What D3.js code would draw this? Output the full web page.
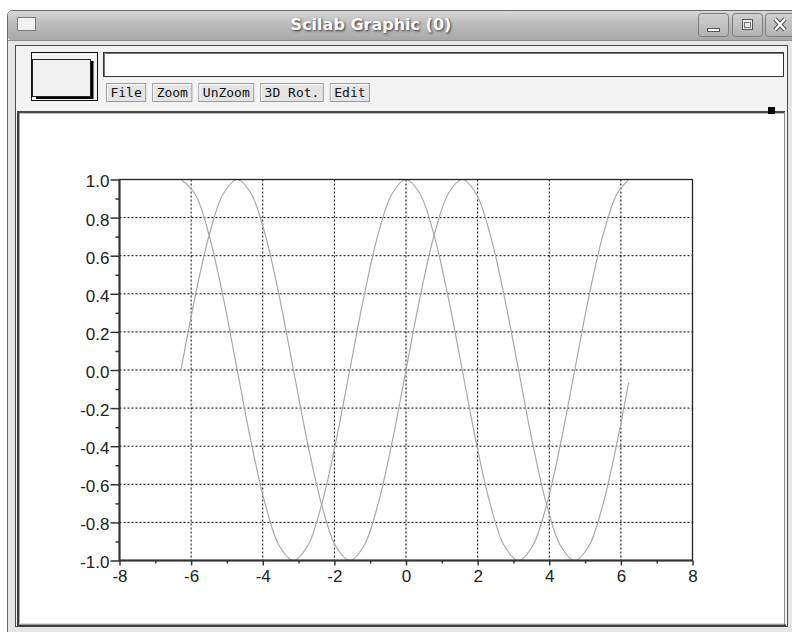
<!DOCTYPE html>
<html><head><meta charset="utf-8">
<script src="https://cdn.jsdelivr.net/npm/d3@7"></script>
<style>body{margin:0;background:#fff;overflow:hidden}svg{display:block}</style>
</head><body>
<svg id="c" width="792" height="632"></svg>
<script>
// ---- data ----
const xValues = [-6.283,-5.890,-5.498,-5.105,-4.712,-4.320,-3.927,-3.534,-3.142,-2.749,-2.356,-1.963,-1.571,-1.178,-0.785,-0.393,
  0.000,0.393,0.785,1.178,1.571,1.963,2.356,2.749,3.142,3.534,3.927,4.320,4.712,5.105,5.498,5.890,6.217];
const sinValues = [0.000,0.383,0.707,0.924,1.000,0.924,0.707,0.383,0.000,-0.383,-0.707,-0.924,-1.000,-0.924,-0.707,-0.383,
  0.000,0.383,0.707,0.924,1.000,0.924,0.707,0.383,0.000,-0.383,-0.707,-0.924,-1.000,-0.924,-0.707,-0.383,-0.066];
const cosValues = [1.000,0.924,0.707,0.383,0.000,-0.383,-0.707,-0.924,-1.000,-0.924,-0.707,-0.383,0.000,0.383,0.707,0.924,
  1.000,0.924,0.707,0.383,0.000,-0.383,-0.707,-0.924,-1.000,-0.924,-0.707,-0.383,0.000,0.383,0.707,0.924,0.998];
const xTickValues = [-8,-6,-4,-2,0,2,4,6,8];
const xMinorTicks = [-7,-5,-3,-1,1,3,5,7];
const yTickValues = [-1.0,-0.8,-0.6,-0.4,-0.2,0.0,0.2,0.4,0.6,0.8,1.0];
const yMinorTicks = [-0.9,-0.7,-0.5,-0.3,-0.1,0.1,0.3,0.5,0.7,0.9];
const xGridValues = [-6,-4,-2,0,2,4,6];
const yGridValues = [-0.8,-0.6,-0.4,-0.2,0.0,0.2,0.4,0.6,0.8];
const menuLabels = ["File","Zoom","UnZoom","3D Rot.","Edit"];
const windowTitle = "Scilab Graphic (0)";

const svg = d3.select("#c");
const defs = svg.append("defs");
const tb = defs.append("linearGradient").attr("id","tb").attr("x1",0).attr("y1",0).attr("x2",0).attr("y2",1);
tb.append("stop").attr("offset","0%").attr("stop-color","#d8d8d8");
tb.append("stop").attr("offset","40%").attr("stop-color","#bebebe");
tb.append("stop").attr("offset","100%").attr("stop-color","#a8a8a8");
const bg = defs.append("linearGradient").attr("id","btn").attr("x1",0).attr("y1",0).attr("x2",0).attr("y2",1);
bg.append("stop").attr("offset","0%").attr("stop-color","#d0d0d0");
bg.append("stop").attr("offset","100%").attr("stop-color","#b2b2b2");
const blur = defs.append("filter").attr("id","sh").attr("x","-10%").attr("y","-30%").attr("width","120%").attr("height","160%");
blur.append("feGaussianBlur").attr("stdDeviation",0.9);

// ---- window chrome ----
svg.append("rect").attr("x",7.5).attr("y",10.5).attr("width",800).attr("height",640).attr("rx",5)
  .attr("fill","#e6e6e6").attr("stroke","#6a6a6a");
svg.append("rect").attr("x",8).attr("y",11).attr("width",800).attr("height",29).attr("rx",4).attr("fill","url(#tb)");
svg.append("line").attr("x1",8).attr("x2",792).attr("y1",40.5).attr("y2",40.5).attr("stroke","#8c8c8c");
svg.append("rect").attr("x",17.5).attr("y",17.5).attr("width",18).attr("height",13)
  .attr("fill","#f2f2f2").attr("stroke","#7a7a7a");
svg.append("text").attr("x",372).attr("y",31).attr("text-anchor","middle")
  .attr("font-family","DejaVu Sans").attr("font-weight","bold").attr("font-size",16)
  .attr("fill","#333").attr("filter","url(#sh)").text(windowTitle);
svg.append("text").attr("x",371).attr("y",30).attr("text-anchor","middle")
  .attr("font-family","DejaVu Sans").attr("font-weight","bold").attr("font-size",16)
  .attr("fill","#ffffff").text(windowTitle);

function winButton(x, kind){
  const g = svg.append("g");
  g.append("rect").attr("x",x+0.5).attr("y",13.5).attr("width",30).attr("height",23).attr("rx",3)
    .attr("fill","url(#btn)").attr("stroke","#7c7c7c");
  if(kind==="min"){
    g.append("rect").attr("x",x+9.5).attr("y",28.5).attr("width",12).attr("height",3).attr("fill","#fff").attr("stroke","#555");
  } else if(kind==="max"){
    g.append("rect").attr("x",x+10.5).attr("y",19.5).attr("width",10).attr("height",10).attr("fill","#e8e8e8").attr("stroke","#555");
    g.append("rect").attr("x",x+12.5).attr("y",22.5).attr("width",6).attr("height",5).attr("fill","none").attr("stroke","#777");
  } else {
    const p = `M${x+10},${19} L${x+20},${30} M${x+20},${19} L${x+10},${30}`;
    g.append("path").attr("d",p).attr("stroke","#555").attr("stroke-width",4.5);
    g.append("path").attr("d",p).attr("stroke","#fff").attr("stroke-width",2.2);
  }
}
winButton(698,"min"); winButton(732,"max"); winButton(765,"close");

// panel
svg.append("rect").attr("x",15.5).attr("y",45.5).attr("width",772).attr("height",581)
  .attr("fill","#f3f3f3").attr("stroke","#4a4a4a");
// toolbar left box
svg.append("rect").attr("x",31.5).attr("y",52.5).attr("width",66).attr("height",48).attr("fill","none").attr("stroke","#111");
svg.append("path").attr("d","M36,97.5 L92,97.5 L92,61").attr("fill","none").attr("stroke","#000").attr("stroke-width",3);
svg.append("rect").attr("x",32.5).attr("y",59.5).attr("width",58).attr("height",37).attr("fill","#f0f0f0").attr("stroke","#222");
// text field
svg.append("rect").attr("x",103.5).attr("y",52.5).attr("width",680).attr("height",24).attr("fill","#fff").attr("stroke","#333");
svg.append("path").attr("d","M104.5,76 L104.5,53.5 L783,53.5").attr("fill","none").attr("stroke","#777");
// menu buttons
let bx = 106;
menuLabels.forEach(lbl=>{
  const w = lbl.length*7.8+8;
  svg.append("rect").attr("x",bx+0.5).attr("y",83.5).attr("width",w).attr("height",18).attr("fill","#e4e4e4").attr("stroke","#9a9a9a");
  svg.append("path").attr("d",`M${bx+1.5},${101} L${bx+1.5},${84.5} L${bx+w},${84.5}`).attr("fill","none").attr("stroke","#fff");
  svg.append("text").attr("x",bx+0.5+w/2).attr("y",97).attr("text-anchor","middle")
    .attr("font-family","DejaVu Sans Mono").attr("font-size",13).attr("fill","#111").text(lbl);
  bx += w + 7;
});
// plot area
svg.append("rect").attr("x",18).attr("y",112).attr("width",766).attr("height",513).attr("fill","#fff");
svg.append("line").attr("x1",17).attr("x2",785).attr("y1",112).attr("y2",112).attr("stroke","#4a4a4a").attr("stroke-width",2);
svg.append("line").attr("x1",19).attr("x2",784).attr("y1",113.5).attr("y2",113.5).attr("stroke","#bdbdbd");
svg.append("line").attr("x1",18).attr("x2",18).attr("y1",112).attr("y2",626).attr("stroke","#3a3a3a").attr("stroke-width",2);
svg.append("line").attr("x1",19.5).attr("x2",19.5).attr("y1",113).attr("y2",623).attr("stroke","#b0b0b0");
svg.append("line").attr("x1",784.5).attr("x2",784.5).attr("y1",112).attr("y2",626).attr("stroke","#8a8a8a");
svg.append("line").attr("x1",17).attr("x2",786).attr("y1",625.5).attr("y2",625.5).attr("stroke","#3a3a3a").attr("stroke-width",2);
svg.append("line").attr("x1",19).attr("x2",784).attr("y1",623.5).attr("y2",623.5).attr("stroke","#e0e0e0");
svg.append("rect").attr("x",768).attr("y",107).attr("width",7).attr("height",7).attr("fill","#000");

// ---- chart ----
const x = d3.scaleLinear().domain([-8,8]).range([119.5,692.5]);
const y = d3.scaleLinear().domain([-1,1]).range([560.5,179.5]);

const grid = svg.append("g").attr("stroke","#000").attr("stroke-width",1).attr("stroke-dasharray","2,2");
grid.selectAll(".gx").data(xGridValues).join("line")
  .attr("x1",d=>x(d)).attr("x2",d=>x(d)).attr("y1",y(1)).attr("y2",y(-1));
grid.selectAll(".gy").data(yGridValues).join("line")
  .attr("y1",d=>y(d)).attr("y2",d=>y(d)).attr("x1",x(-8)).attr("x2",x(8));

const idx = d3.range(xValues.length);
const line = vals => d3.line().x(i=>x(xValues[i])).y(i=>y(vals[i])).curve(d3.curveCatmullRom.alpha(0.5))(idx);
svg.append("path").attr("d",line(sinValues)).attr("fill","none").attr("stroke","#a9a9a9").attr("stroke-width",1.2);
svg.append("path").attr("d",line(cosValues)).attr("fill","none").attr("stroke","#a9a9a9").attr("stroke-width",1.2);

// frame
svg.append("rect").attr("x",x(-8)).attr("y",y(1)).attr("width",x(8)-x(-8)).attr("height",y(-1)-y(1))
  .attr("fill","none").attr("stroke","#222").attr("stroke-width",1.3);

const fmt = d => d.toFixed(1);
function styleAxis(g){
  g.select(".domain").remove();
  g.selectAll(".tick line").attr("stroke","#333").attr("stroke-width",1.5);
  g.selectAll("text").attr("font-family","Liberation Sans, Arial, sans-serif").attr("font-size",17).attr("fill","#222");
}
const yAx = svg.append("g").attr("transform",`translate(${x(-8)},0)`)
  .call(d3.axisLeft(y).tickValues(yTickValues).tickSize(9).tickPadding(1).tickFormat(fmt));
styleAxis(yAx); yAx.selectAll("text").attr("dy","0.44em");
const yMin = svg.append("g").attr("transform",`translate(${x(-8)},0)`)
  .call(d3.axisLeft(y).tickValues(yMinorTicks).tickSize(4).tickFormat(""));
styleAxis(yMin);
const xAx = svg.append("g").attr("transform",`translate(0,${y(-1)})`)
  .call(d3.axisBottom(x).tickValues(xTickValues).tickSize(5).tickPadding(4).tickFormat(d=>String(d)));
styleAxis(xAx);
const xMin = svg.append("g").attr("transform",`translate(0,${y(-1)})`)
  .call(d3.axisBottom(x).tickValues(xMinorTicks).tickSize(3).tickFormat(""));
styleAxis(xMin);
// axis lines
svg.append("line").attr("x1",x(-8)).attr("x2",x(-8)).attr("y1",y(1)).attr("y2",y(-1)).attr("stroke","#333").attr("stroke-width",2);
svg.append("line").attr("x1",x(-8)).attr("x2",x(8)).attr("y1",y(-1)).attr("y2",y(-1)).attr("stroke","#333").attr("stroke-width",2);
</script>
</body></html>
